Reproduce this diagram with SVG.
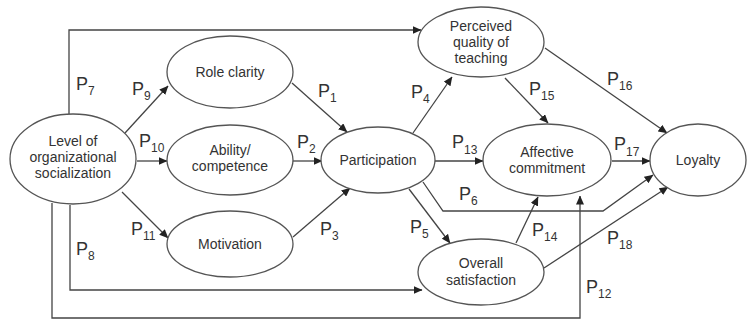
<svg xmlns="http://www.w3.org/2000/svg" width="750" height="320" viewBox="0 0 750 320">
<defs>
<marker id="ah" markerWidth="9" markerHeight="8" refX="8.5" refY="4" orient="auto" markerUnits="userSpaceOnUse">
<path d="M0,0 L9,4 L0,8 Z" fill="#222"/>
</marker>
<style>
.n ellipse{fill:#fff;stroke:#555;stroke-width:1.3}
.n text{font-family:"Liberation Sans",Arial,sans-serif;font-size:14px;fill:#333;text-anchor:middle}
.c path{fill:none;stroke:#444;stroke-width:1.3}
.c path.a{marker-end:url(#ah)}
.l text{font-family:"Liberation Sans",Arial,sans-serif;fill:#333}
.l tspan{fill:#333}
.l .p{font-size:18px}
.l .s{font-size:12px}
</style>
</defs>
<rect width="750" height="320" fill="#fff"/>
<g class="c">
<path class="a" d="M69,114 V30 H421"/>
<path class="a" d="M70,205 V290 H422"/>
<path class="a" d="M52,203 V318 H580 V196"/>
<path class="a" d="M125,133 L168,86"/>
<path class="a" d="M137,161 H167"/>
<path class="a" d="M122,192 L168,238"/>
<path class="a" d="M292,83 L347,132"/>
<path class="a" d="M293,161 H322"/>
<path class="a" d="M293,237 L350,188"/>
<path class="a" d="M413,133 L452,77"/>
<path class="a" d="M435,161 H483"/>
<path class="a" d="M409,189 L450,243"/>
<path class="a" d="M423,182 L443,211 H603 L653,175"/>
<path class="a" d="M516,243 L538,197"/>
<path class="a" d="M505,78 L548,123"/>
<path class="a" d="M545,48 L667,133"/>
<path class="a" d="M612,161 H650"/>
<path class="a" d="M544,268 L668,187"/>
</g>
<g id="level" class="n"><ellipse cx="73" cy="159" rx="63" ry="45"/><text x="73" y="146">Level of</text><text x="73" y="162">organizational</text><text x="73" y="178">socialization</text></g>
<g id="role" class="n"><ellipse cx="230" cy="72" rx="63" ry="36"/><text x="230" y="77">Role clarity</text></g>
<g id="ability" class="n"><ellipse cx="230" cy="160" rx="63" ry="35"/><text x="230" y="155">Ability/</text><text x="230" y="171">competence</text></g>
<g id="motivation" class="n"><ellipse cx="230" cy="244" rx="63" ry="33"/><text x="230" y="249">Motivation</text></g>
<g id="participation" class="n"><ellipse cx="378" cy="160" rx="57" ry="33"/><text x="378" y="165">Participation</text></g>
<g id="perceived" class="n"><ellipse cx="481" cy="42" rx="63" ry="35"/><text x="481" y="31">Perceived</text><text x="481" y="47">quality of</text><text x="481" y="63">teaching</text></g>
<g id="affective" class="n"><ellipse cx="547" cy="160" rx="64" ry="36"/><text x="547" y="157">Affective</text><text x="547" y="173">commitment</text></g>
<g id="loyalty" class="n"><ellipse cx="698" cy="160" rx="48" ry="36"/><text x="698" y="165">Loyalty</text></g>
<g id="overall" class="n"><ellipse cx="481" cy="272" rx="63" ry="33"/><text x="481" y="268">Overall</text><text x="481" y="285">satisfaction</text></g>
<g class="l">
<text x="76" y="90"><tspan class="p">P</tspan><tspan class="s" dy="5">7</tspan></text>
<text x="132" y="95"><tspan class="p">P</tspan><tspan class="s" dy="5">9</tspan></text>
<text x="139" y="147"><tspan class="p">P</tspan><tspan class="s" dy="5">10</tspan></text>
<text x="131" y="235"><tspan class="p">P</tspan><tspan class="s" dy="5">11</tspan></text>
<text x="76" y="255"><tspan class="p">P</tspan><tspan class="s" dy="5">8</tspan></text>
<text x="318" y="97"><tspan class="p">P</tspan><tspan class="s" dy="5">1</tspan></text>
<text x="297" y="148"><tspan class="p">P</tspan><tspan class="s" dy="5">2</tspan></text>
<text x="320" y="235"><tspan class="p">P</tspan><tspan class="s" dy="5">3</tspan></text>
<text x="411" y="98"><tspan class="p">P</tspan><tspan class="s" dy="5">4</tspan></text>
<text x="452" y="148"><tspan class="p">P</tspan><tspan class="s" dy="6">13</tspan></text>
<text x="410" y="233"><tspan class="p">P</tspan><tspan class="s" dy="5">5</tspan></text>
<text x="459" y="200"><tspan class="p">P</tspan><tspan class="s" dy="5">6</tspan></text>
<text x="532" y="236"><tspan class="p">P</tspan><tspan class="s" dy="5">14</tspan></text>
<text x="529" y="95"><tspan class="p">P</tspan><tspan class="s" dy="5">15</tspan></text>
<text x="607" y="85"><tspan class="p">P</tspan><tspan class="s" dy="5">16</tspan></text>
<text x="614" y="150"><tspan class="p">P</tspan><tspan class="s" dy="6">17</tspan></text>
<text x="607" y="244"><tspan class="p">P</tspan><tspan class="s" dy="5">18</tspan></text>
<text x="586" y="293"><tspan class="p">P</tspan><tspan class="s" dy="5">12</tspan></text>
</g>
</svg>
